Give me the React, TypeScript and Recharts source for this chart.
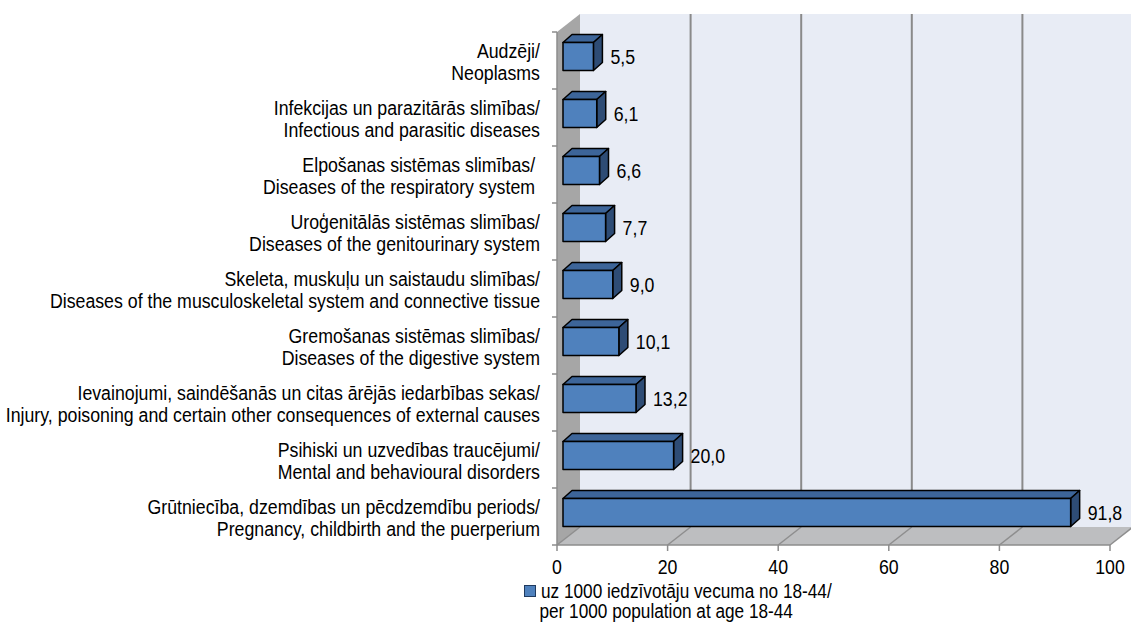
import React from "react";
import {
  BarChart, Bar, XAxis, YAxis, CartesianGrid, ReferenceArea, LabelList,
} from "recharts";

// category labels, top to bottom (Latvian / English)
const namesLv = [
  "Audzēji/",
  "Infekcijas un parazitārās slimības/",
  "Elpošanas sistēmas slimības/ ",
  "Uroģenitālās sistēmas slimības/",
  "Skeleta, muskuļu un saistaudu slimības/",
  "Gremošanas sistēmas slimības/",
  "Ievainojumi, saindēšanās un citas ārējās iedarbības sekas/",
  "Psihiski un uzvedības traucējumi/",
  "Grūtniecība, dzemdības un pēcdzemdību periods/",
];
const namesEn = [
  "Neoplasms",
  "Infectious and parasitic diseases",
  "Diseases of the respiratory system ",
  "Diseases of the genitourinary system",
  "Diseases of the musculoskeletal system and connective tissue",
  "Diseases of the digestive system",
  "Injury, poisoning and certain other consequences of external causes",
  "Mental and behavioural disorders",
  "Pregnancy, childbirth and the puerperium",
];
const rates = [5.5, 6.1, 6.6, 7.7, 9.0, 10.1, 13.2, 20.0, 91.8];
const xTicks = [0, 20, 40, 60, 80, 100];
const legendLines = ["uz 1000 iedzīvotāju vecuma no 18-44/", "per 1000 population at age 18-44"];

const data = rates.map((v, i) => ({ name: namesLv[i], en: namesEn[i], value: v }));

// no Arial Narrow offline: Liberation Sans squeezed horizontally
const FONT = "'Liberation Sans', Arial, sans-serif";
const FS = 21;
const SQ = 0.845;
const FS_LEGEND = 20;
const SQ_LEGEND = 0.86;
const BAR_FRONT = "#4F81BD";
const BAR_TOP = "#3D6599";
const BAR_SIDE = "#2E4C75";
// depth of the 3d box (back wall offset) and of each bar
const DX = 23, DY = -18;
const BDX = 9, BDY = -8;
const BAR_SHIFT_X = 6, BAR_SHIFT_Y = -4.5;

function NarrowText({ x, y, anchor = "start", children }: any) {
  return (
    <text transform={`translate(${x},${y}) scale(${SQ},1)`} x={0} y={0} textAnchor={anchor}
          fontSize={FS} fontFamily={FONT} fill="#000" style={{ whiteSpace: "pre" }}>
      {children}
    </text>
  );
}

function Walls(props: any) {
  const { x, y, width, height } = props;
  const n = rates.length;
  return (
    <g>
      <rect x={x + DX} y={y + DY} width={width} height={height} fill="#E8ECF5" />
      <polygon
        points={`${x},${y} ${x + DX},${y + DY} ${x + DX},${y + height + DY} ${x},${y + height}`}
        fill="#A6A6A6"
      />
      <polygon
        points={`${x},${y + height} ${x + DX},${y + height + DY} ${x + width + DX},${y + height + DY} ${x + width},${y + height}`}
        fill="#BDBEC0"
      />
      <line x1={x} y1={y} x2={x} y2={y + height} stroke="#8C8C8C" strokeWidth={1.5} />
      {Array.from({ length: n + 1 }, (_, i) => (
        <line key={i} x1={x - 5} x2={x} y1={y + (height * i) / n} y2={y + (height * i) / n}
              stroke="#8C8C8C" strokeWidth={1.5} />
      ))}
    </g>
  );
}

function GridLine(p: any) {
  const { x1, y1, y2, index } = p;
  return (
    <g key={`g-${index}-${x1}`}>
      {index !== 0 && (
        <line x1={x1 + DX} x2={x1 + DX} y1={y1 + DY} y2={y2 + DY} stroke="#8A8A8A" strokeWidth={2} />
      )}
      <line x1={x1} x2={x1 + DX} y1={y2} y2={y2 + DY} stroke="#8E8E8E" strokeWidth={1.5} />
    </g>
  );
}

function Box(props: any) {
  const { x, y, width, height } = props;
  const x0 = x + BAR_SHIFT_X, y0 = y + BAR_SHIFT_Y;
  const x1 = x0 + width, y1 = y0 + height;
  return (
    <g stroke="#000" strokeWidth={1.5} strokeLinejoin="round">
      <polygon points={`${x0},${y0} ${x0 + BDX},${y0 + BDY} ${x1 + BDX},${y0 + BDY} ${x1},${y0}`} fill={BAR_TOP} />
      <polygon points={`${x1},${y0} ${x1 + BDX},${y0 + BDY} ${x1 + BDX},${y1 + BDY} ${x1},${y1}`} fill={BAR_SIDE} />
      <rect x={x0} y={y0} width={width} height={height} fill={BAR_FRONT} />
    </g>
  );
}

function ValueLabel(props: any) {
  const { x, y, width, height, value } = props;
  return (
    <NarrowText x={x + width + BAR_SHIFT_X + BDX + 8} y={y + height / 2 + BAR_SHIFT_Y + 7.5}>
      {Number(value).toFixed(1).replace(".", ",")}
    </NarrowText>
  );
}

function CategoryTick(props: any) {
  const { x, y, payload, index } = props;
  return (
    <NarrowText x={x} y={y} anchor="end">
      <tspan x={0} dy={-3}>{payload.value}</tspan>
      <tspan x={0} dy={23}>{namesEn[index]}</tspan>
    </NarrowText>
  );
}

function NumberTick(props: any) {
  const { x, y, payload } = props;
  return <NarrowText x={x} y={y + 19} anchor="middle">{payload.value}</NarrowText>;
}

export default function App() {
  return (
    <div style={{ position: "absolute", left: 0, top: 0, width: 1131, height: 624, background: "#fff" }}>
      <BarChart width={1131} height={624} data={data} layout="vertical"
                margin={{ top: 32, right: 21, bottom: 49, left: 0 }} barSize={28}>
        <ReferenceArea x1={0} x2={100} shape={<Walls />} zIndex={-200} ifOverflow="visible" />
        <CartesianGrid horizontal={false} vertical={GridLine} />
        <XAxis type="number" domain={[0, 100]} ticks={xTicks} height={30} tickSize={6} tickMargin={4}
               axisLine={{ stroke: "#8C8C8C", strokeWidth: 1.5 }}
               tickLine={{ stroke: "#8C8C8C", strokeWidth: 1.5 }}
               tick={<NumberTick />} />
        <YAxis type="category" dataKey="name" width={557} axisLine={false} tickLine={false}
               tickSize={6} tickMargin={11} tick={<CategoryTick />} interval={0} />
        <Bar dataKey="value" shape={<Box />} isAnimationActive={false}>
          <LabelList dataKey="value" content={<ValueLabel />} />
        </Bar>
      </BarChart>
      <div style={{ position: "absolute", left: 524, top: 581, fontFamily: FONT, fontSize: FS_LEGEND,
                    lineHeight: "20px", color: "#000", whiteSpace: "pre" }}>
        <div style={{ display: "flex", alignItems: "center" }}>
          <span style={{ display: "inline-block", width: 10, height: 10, background: BAR_FRONT,
                         border: "1px solid #1F3A5F", marginRight: 5 }} />
          <span style={{ display: "inline-block", transform: `scaleX(${SQ_LEGEND})`, transformOrigin: "left" }}>
            {legendLines[0]}
          </span>
        </div>
        <div style={{ paddingLeft: 18, transform: `scaleX(${SQ_LEGEND})`, transformOrigin: "left" }}>
          {legendLines[1]}
        </div>
      </div>
    </div>
  );
}
